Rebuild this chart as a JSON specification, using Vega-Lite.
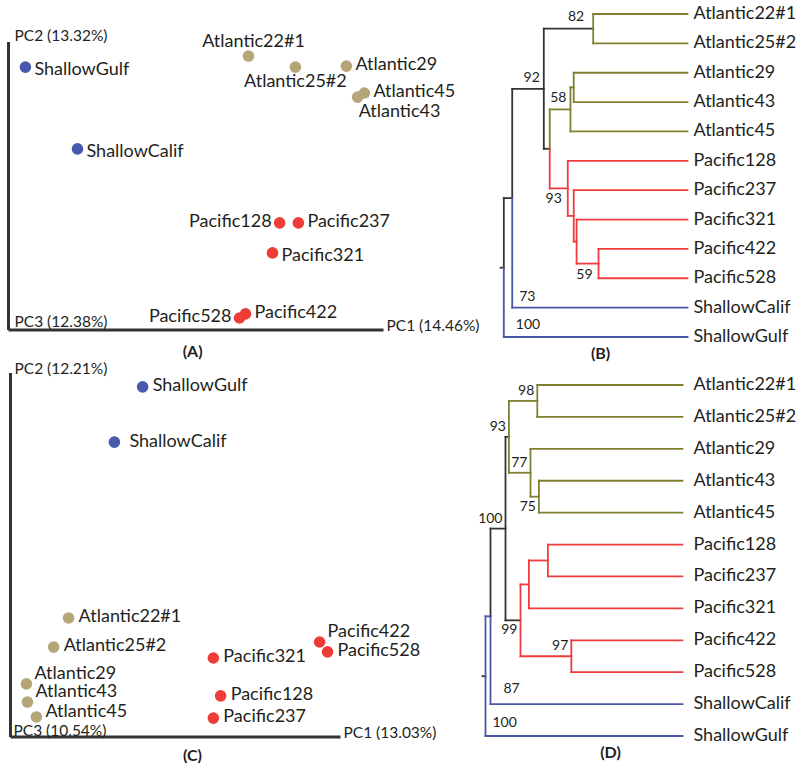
{
  "$schema": "https://vega.github.io/schema/vega-lite/v6.json",
  "padding": {"left": 6.5, "top": 5, "right": 0, "bottom": 0},
  "config": {
    "view": {"stroke": null},
    "text": {"font": "Lato", "fontSize": 18, "color": "#231f20"}
  },
  "datasets": {
    "pcaA": [
      {"name": "ShallowGulf", "group": "Shallow", "x": 4.5, "y": 83.2},
      {"name": "ShallowCalif", "group": "Shallow", "x": 18.4, "y": 57.3},
      {"name": "Atlantic22#1", "group": "Atlantic", "x": 64.0, "y": 86.7},
      {"name": "Atlantic25#2", "group": "Atlantic", "x": 76.5, "y": 83.2},
      {"name": "Atlantic29", "group": "Atlantic", "x": 90.1, "y": 83.5},
      {"name": "Atlantic43", "group": "Atlantic", "x": 93.1, "y": 73.7},
      {"name": "Atlantic45", "group": "Atlantic", "x": 94.9, "y": 75.0},
      {"name": "Pacific128", "group": "Pacific", "x": 72.3, "y": 33.9},
      {"name": "Pacific237", "group": "Pacific", "x": 77.3, "y": 33.9},
      {"name": "Pacific321", "group": "Pacific", "x": 70.4, "y": 24.4},
      {"name": "Pacific422", "group": "Pacific", "x": 63.2, "y": 5.1},
      {"name": "Pacific528", "group": "Pacific", "x": 61.6, "y": 3.8}
    ],
    "pcaC": [
      {"name": "ShallowGulf", "group": "Shallow", "x": 40.4, "y": 96.2},
      {"name": "ShallowCalif", "group": "Shallow", "x": 31.9, "y": 81.0},
      {"name": "Atlantic22#1", "group": "Atlantic", "x": 18.1, "y": 32.7},
      {"name": "Atlantic25#2", "group": "Atlantic", "x": 13.6, "y": 24.7},
      {"name": "Atlantic29", "group": "Atlantic", "x": 5.4, "y": 14.6},
      {"name": "Atlantic43", "group": "Atlantic", "x": 5.7, "y": 9.6},
      {"name": "Atlantic45", "group": "Atlantic", "x": 8.4, "y": 5.5},
      {"name": "Pacific128", "group": "Pacific", "x": 63.9, "y": 11.3},
      {"name": "Pacific237", "group": "Pacific", "x": 61.7, "y": 5.2},
      {"name": "Pacific321", "group": "Pacific", "x": 61.7, "y": 21.7},
      {"name": "Pacific422", "group": "Pacific", "x": 93.7, "y": 26.1},
      {"name": "Pacific528", "group": "Pacific", "x": 96.1, "y": 23.4}
    ],
    "axesA": [
      {"x": 0, "y": 0, "x2": 0, "y2": 91.1},
      {"x": 0, "y": 0, "x2": 100, "y2": 0}
    ],
    "axesC": [
      {"x": 0.6, "y": 0, "x2": 0.6, "y2": 100},
      {"x": 0.6, "y": 0, "x2": 100, "y2": 0}
    ],
    "axisTextA": [
      {"label": "PC2 (13.32%)", "x": 1.6, "y": 93.0},
      {"label": "PC3 (12.38%)", "x": 1.6, "y": 2.5},
      {"label": "PC1 (14.46%)", "x": 100.8, "y": 1.4}
    ],
    "axisTextC": [
      {"label": "PC2 (12.21%)", "x": 1.8, "y": 101.1},
      {"label": "PC3 (10.54%)", "x": 1.5, "y": 1.6},
      {"label": "PC1 (13.03%)", "x": 100.9, "y": 1.0}
    ],
    "leaves": [
      {"name": "Atlantic22#1", "x": 1, "y": 0},
      {"name": "Atlantic25#2", "x": 1, "y": 1},
      {"name": "Atlantic29", "x": 1, "y": 2},
      {"name": "Atlantic43", "x": 1, "y": 3},
      {"name": "Atlantic45", "x": 1, "y": 4},
      {"name": "Pacific128", "x": 1, "y": 5},
      {"name": "Pacific237", "x": 1, "y": 6},
      {"name": "Pacific321", "x": 1, "y": 7},
      {"name": "Pacific422", "x": 1, "y": 8},
      {"name": "Pacific528", "x": 1, "y": 9},
      {"name": "ShallowCalif", "x": 1, "y": 10},
      {"name": "ShallowGulf", "x": 1, "y": 11}
    ],
    "treeB": [
      {"x": 0.088, "x2": 0.104, "y": 8.64, "y2": 8.64, "clade": "internal"},
      {"x": 0.104, "x2": 0.104, "y": 6.27, "y2": 8.64, "clade": "internal"},
      {"x": 0.104, "x2": 0.104, "y": 8.64, "y2": 11, "clade": "Shallow"},
      {"x": 0.104, "x2": 1, "y": 11, "y2": 11, "clade": "Shallow"},
      {"x": 0.104, "x2": 0.145, "y": 6.27, "y2": 6.27, "clade": "internal"},
      {"x": 0.145, "x2": 0.145, "y": 2.55, "y2": 6.27, "clade": "internal"},
      {"x": 0.145, "x2": 0.145, "y": 6.27, "y2": 10, "clade": "Shallow"},
      {"x": 0.145, "x2": 1, "y": 10, "y2": 10, "clade": "Shallow"},
      {"x": 0.145, "x2": 0.299, "y": 2.55, "y2": 2.55, "clade": "internal"},
      {"x": 0.299, "x2": 0.299, "y": 0.5, "y2": 4.59, "clade": "internal"},
      {"x": 0.299, "x2": 0.540, "y": 0.5, "y2": 0.5, "clade": "internal"},
      {"x": 0.540, "x2": 0.540, "y": 0, "y2": 1, "clade": "Atlantic"},
      {"x": 0.540, "x2": 1, "y": 0, "y2": 0, "clade": "Atlantic"},
      {"x": 0.540, "x2": 1, "y": 1, "y2": 1, "clade": "Atlantic"},
      {"x": 0.299, "x2": 0.328, "y": 4.59, "y2": 4.59, "clade": "internal"},
      {"x": 0.328, "x2": 0.328, "y": 3.25, "y2": 4.59, "clade": "Atlantic"},
      {"x": 0.328, "x2": 0.328, "y": 4.59, "y2": 5.94, "clade": "Pacific"},
      {"x": 0.328, "x2": 0.429, "y": 3.25, "y2": 3.25, "clade": "Atlantic"},
      {"x": 0.429, "x2": 0.429, "y": 2.5, "y2": 4, "clade": "Atlantic"},
      {"x": 0.429, "x2": 0.445, "y": 2.5, "y2": 2.5, "clade": "Atlantic"},
      {"x": 0.445, "x2": 0.445, "y": 2, "y2": 3, "clade": "Atlantic"},
      {"x": 0.445, "x2": 1, "y": 2, "y2": 2, "clade": "Atlantic"},
      {"x": 0.445, "x2": 1, "y": 3, "y2": 3, "clade": "Atlantic"},
      {"x": 0.429, "x2": 1, "y": 4, "y2": 4, "clade": "Atlantic"},
      {"x": 0.328, "x2": 0.416, "y": 5.94, "y2": 5.94, "clade": "Pacific"},
      {"x": 0.416, "x2": 0.416, "y": 5, "y2": 6.875, "clade": "Pacific"},
      {"x": 0.416, "x2": 1, "y": 5, "y2": 5, "clade": "Pacific"},
      {"x": 0.416, "x2": 0.445, "y": 6.875, "y2": 6.875, "clade": "Pacific"},
      {"x": 0.445, "x2": 0.445, "y": 6, "y2": 7.75, "clade": "Pacific"},
      {"x": 0.445, "x2": 1, "y": 6, "y2": 6, "clade": "Pacific"},
      {"x": 0.445, "x2": 0.459, "y": 7.75, "y2": 7.75, "clade": "Pacific"},
      {"x": 0.459, "x2": 0.459, "y": 7, "y2": 8.5, "clade": "Pacific"},
      {"x": 0.459, "x2": 1, "y": 7, "y2": 7, "clade": "Pacific"},
      {"x": 0.459, "x2": 0.566, "y": 8.5, "y2": 8.5, "clade": "Pacific"},
      {"x": 0.566, "x2": 0.566, "y": 8, "y2": 9, "clade": "Pacific"},
      {"x": 0.566, "x2": 1, "y": 8, "y2": 8, "clade": "Pacific"},
      {"x": 0.566, "x2": 1, "y": 9, "y2": 9, "clade": "Pacific"}
    ],
    "supportB": [
      {"node": "N82", "support": "82", "x": 0.540, "y": 0.5},
      {"node": "N92", "support": "92", "x": 0.299, "y": 2.55},
      {"node": "N58", "support": "58", "x": 0.429, "y": 3.25},
      {"node": "N93", "support": "93", "x": 0.416, "y": 5.94},
      {"node": "N59", "support": "59", "x": 0.566, "y": 8.5},
      {"node": "N73", "support": "73", "x": 0.145, "y": 10},
      {"node": "root", "support": "100", "x": 0.104, "y": 11}
    ],
    "treeD": [
      {"x": 0, "x2": 0.015, "y": 9.125, "y2": 9.125, "clade": "internal"},
      {"x": 0.015, "x2": 0.015, "y": 7.25, "y2": 11, "clade": "Shallow"},
      {"x": 0.015, "x2": 1, "y": 11, "y2": 11, "clade": "Shallow"},
      {"x": 0.015, "x2": 0.04, "y": 7.25, "y2": 7.25, "clade": "Shallow"},
      {"x": 0.04, "x2": 0.04, "y": 4.5, "y2": 7.25, "clade": "internal"},
      {"x": 0.04, "x2": 0.04, "y": 7.25, "y2": 10, "clade": "Shallow"},
      {"x": 0.04, "x2": 1, "y": 10, "y2": 10, "clade": "Shallow"},
      {"x": 0.04, "x2": 0.115, "y": 4.5, "y2": 4.5, "clade": "internal"},
      {"x": 0.115, "x2": 0.115, "y": 1.625, "y2": 7.375, "clade": "internal"},
      {"x": 0.115, "x2": 0.132, "y": 1.625, "y2": 1.625, "clade": "internal"},
      {"x": 0.132, "x2": 0.132, "y": 0.5, "y2": 2.75, "clade": "Atlantic"},
      {"x": 0.132, "x2": 0.274, "y": 0.5, "y2": 0.5, "clade": "Atlantic"},
      {"x": 0.274, "x2": 0.274, "y": 0, "y2": 1, "clade": "Atlantic"},
      {"x": 0.274, "x2": 1, "y": 0, "y2": 0, "clade": "Atlantic"},
      {"x": 0.274, "x2": 1, "y": 1, "y2": 1, "clade": "Atlantic"},
      {"x": 0.132, "x2": 0.24, "y": 2.75, "y2": 2.75, "clade": "Atlantic"},
      {"x": 0.24, "x2": 0.24, "y": 2, "y2": 3.5, "clade": "Atlantic"},
      {"x": 0.24, "x2": 1, "y": 2, "y2": 2, "clade": "Atlantic"},
      {"x": 0.24, "x2": 0.282, "y": 3.5, "y2": 3.5, "clade": "Atlantic"},
      {"x": 0.282, "x2": 0.282, "y": 3, "y2": 4, "clade": "Atlantic"},
      {"x": 0.282, "x2": 1, "y": 3, "y2": 3, "clade": "Atlantic"},
      {"x": 0.282, "x2": 1, "y": 4, "y2": 4, "clade": "Atlantic"},
      {"x": 0.115, "x2": 0.19, "y": 7.375, "y2": 7.375, "clade": "internal"},
      {"x": 0.19, "x2": 0.19, "y": 6.25, "y2": 8.5, "clade": "Pacific"},
      {"x": 0.19, "x2": 0.232, "y": 6.25, "y2": 6.25, "clade": "Pacific"},
      {"x": 0.232, "x2": 0.232, "y": 5.5, "y2": 7, "clade": "Pacific"},
      {"x": 0.232, "x2": 0.327, "y": 5.5, "y2": 5.5, "clade": "Pacific"},
      {"x": 0.327, "x2": 0.327, "y": 5, "y2": 6, "clade": "Pacific"},
      {"x": 0.327, "x2": 1, "y": 5, "y2": 5, "clade": "Pacific"},
      {"x": 0.327, "x2": 1, "y": 6, "y2": 6, "clade": "Pacific"},
      {"x": 0.232, "x2": 1, "y": 7, "y2": 7, "clade": "Pacific"},
      {"x": 0.19, "x2": 0.444, "y": 8.5, "y2": 8.5, "clade": "Pacific"},
      {"x": 0.444, "x2": 0.444, "y": 8, "y2": 9, "clade": "Pacific"},
      {"x": 0.444, "x2": 1, "y": 8, "y2": 8, "clade": "Pacific"},
      {"x": 0.444, "x2": 1, "y": 9, "y2": 9, "clade": "Pacific"}
    ],
    "supportD": [
      {"node": "N98", "support": "98", "x": 0.274, "y": 0.5},
      {"node": "N93", "support": "93", "x": 0.132, "y": 1.625},
      {"node": "N77", "support": "77", "x": 0.24, "y": 2.75},
      {"node": "N75", "support": "75", "x": 0.282, "y": 3.5},
      {"node": "N100", "support": "100", "x": 0.115, "y": 4.5},
      {"node": "N99", "support": "99", "x": 0.19, "y": 7.375},
      {"node": "N97", "support": "97", "x": 0.444, "y": 8.5},
      {"node": "N87", "support": "87", "x": 0.04, "y": 10},
      {"node": "root", "support": "100", "x": 0.015, "y": 11}
    ],
    "panelB": [{"label": "(B)", "x": 0.576, "y": 11.58}],
    "panelD": [{"label": "(D)", "x": 0.64, "y": 11.53}],
    "panelA": [{"label": "(A)", "x": 49.1, "y": -7.0}],
    "panelC": [{"label": "(C)", "x": 55.4, "y": -5.2}]
  },
  "columns": 2,
  "align": "each",
  "bounds": "flush",
  "spacing": {"row": 36, "column": 99},
  "resolve": {"scale": {"color": "independent"}},
  "concat": [
    {
      "width": 375,
      "height": 316,
      "encoding": {
        "x": {"field": "x", "type": "quantitative", "scale": {"domain": [0, 100], "nice": false, "zero": false}, "axis": null},
        "y": {"field": "y", "type": "quantitative", "scale": {"domain": [0, 100], "nice": false, "zero": false}, "axis": null}
      },
      "layer": [
        {
          "data": {"name": "axesA"},
          "mark": {"type": "rule", "strokeWidth": 3, "color": "#333333"},
          "encoding": {"x2": {"field": "x2"}, "y2": {"field": "y2"}}
        },
        {
          "data": {"name": "pcaA"},
          "mark": {"type": "circle", "size": 135, "opacity": 1},
          "encoding": {
            "color": {"field": "group", "type": "nominal", "scale": {"domain": ["Atlantic", "Pacific", "Shallow"], "range": ["#b4a677", "#ee3d36", "#4659ad"]}, "legend": null}
          }
        },
        {
          "data": {"name": "pcaA"},
          "transform": [{"filter": {"field": "name", "oneOf": ["ShallowGulf", "ShallowCalif", "Pacific321"]}}],
          "mark": {"type": "text", "align": "left", "dx": 9, "dy": 3},
          "encoding": {"text": {"field": "name"}}
        },
        {
          "data": {"name": "pcaA"},
          "transform": [{"filter": {"field": "name", "oneOf": ["Atlantic29", "Atlantic45", "Pacific237", "Pacific422"]}}],
          "mark": {"type": "text", "align": "left", "dx": 9, "dy": -1},
          "encoding": {"text": {"field": "name"}}
        },
        {
          "data": {"name": "pcaA"},
          "transform": [{"filter": {"field": "name", "oneOf": ["Pacific128", "Pacific528"]}}],
          "mark": {"type": "text", "align": "right", "dx": -8, "dy": -1},
          "encoding": {"text": {"field": "name"}}
        },
        {
          "data": {"name": "pcaA"},
          "transform": [{"filter": {"field": "name", "oneOf": ["Atlantic22#1"]}}],
          "mark": {"type": "text", "align": "center", "dx": 5, "dy": -14},
          "encoding": {"text": {"field": "name"}}
        },
        {
          "data": {"name": "pcaA"},
          "transform": [{"filter": {"field": "name", "oneOf": ["Atlantic25#2"]}}],
          "mark": {"type": "text", "align": "center", "dx": 0, "dy": 15},
          "encoding": {"text": {"field": "name"}}
        },
        {
          "data": {"name": "pcaA"},
          "transform": [{"filter": {"field": "name", "oneOf": ["Atlantic43"]}}],
          "mark": {"type": "text", "align": "left", "dx": 1, "dy": 15},
          "encoding": {"text": {"field": "name"}}
        },
        {
          "data": {"name": "axisTextA"},
          "mark": {"type": "text", "align": "left", "fontSize": 15.5},
          "encoding": {"text": {"field": "label"}}
        },
        {
          "data": {"name": "panelA"},
          "mark": {"type": "text", "align": "center", "fontSize": 16, "fontWeight": "bold"},
          "encoding": {"text": {"field": "label"}}
        }
      ]
    },
    {
      "width": 205,
      "height": 323,
      "encoding": {
        "x": {"field": "x", "type": "quantitative", "scale": {"domain": [0, 1], "nice": false, "zero": false}, "axis": null},
        "y": {"field": "y", "type": "quantitative", "scale": {"domain": [0, 11], "nice": false, "zero": false, "reverse": true}, "axis": null}
      },
      "layer": [
        {
          "data": {"name": "treeB"},
          "mark": {"type": "rule", "strokeWidth": 1.8, "strokeCap": "square"},
          "encoding": {
            "x2": {"field": "x2"},
            "y2": {"field": "y2"},
            "color": {"field": "clade", "type": "nominal", "scale": {"domain": ["internal", "Atlantic", "Pacific", "Shallow"], "range": ["#333333", "#7f7f30", "#f03c3c", "#4a56a6"]}, "legend": null}
          }
        },
        {
          "data": {"name": "leaves"},
          "mark": {"type": "text", "align": "left", "dx": 6},
          "encoding": {"text": {"field": "name"}}
        },
        {
          "data": {"name": "supportB"},
          "transform": [{"filter": {"field": "node", "oneOf": ["N82"]}}],
          "mark": {"type": "text", "align": "right", "dx": -9, "dy": -12, "fontSize": 14},
          "encoding": {"text": {"field": "support"}}
        },
        {
          "data": {"name": "supportB"},
          "transform": [{"filter": {"field": "node", "oneOf": ["N92", "N58"]}}],
          "mark": {"type": "text", "align": "right", "dx": -4, "dy": -11, "fontSize": 14},
          "encoding": {"text": {"field": "support"}}
        },
        {
          "data": {"name": "supportB"},
          "transform": [{"filter": {"field": "node", "oneOf": ["N93", "N59"]}}],
          "mark": {"type": "text", "align": "right", "dx": -6, "dy": 11, "fontSize": 14},
          "encoding": {"text": {"field": "support"}}
        },
        {
          "data": {"name": "supportB"},
          "transform": [{"filter": {"field": "node", "oneOf": ["N73"]}}],
          "mark": {"type": "text", "align": "left", "dx": 7, "dy": -11, "fontSize": 14},
          "encoding": {"text": {"field": "support"}}
        },
        {
          "data": {"name": "supportB"},
          "transform": [{"filter": {"field": "node", "oneOf": ["root"]}}],
          "mark": {"type": "text", "align": "left", "dx": 12, "dy": -12, "fontSize": 14},
          "encoding": {"text": {"field": "support"}}
        },
        {
          "data": {"name": "panelB"},
          "mark": {"type": "text", "align": "center", "fontSize": 16, "fontWeight": "bold"},
          "encoding": {"text": {"field": "label"}}
        }
      ]
    },
    {
      "width": 332,
      "height": 364,
      "encoding": {
        "x": {"field": "x", "type": "quantitative", "scale": {"domain": [0, 100], "nice": false, "zero": false}, "axis": null},
        "y": {"field": "y", "type": "quantitative", "scale": {"domain": [0, 100], "nice": false, "zero": false}, "axis": null}
      },
      "layer": [
        {
          "data": {"name": "axesC"},
          "mark": {"type": "rule", "strokeWidth": 3, "color": "#333333"},
          "encoding": {"x2": {"field": "x2"}, "y2": {"field": "y2"}}
        },
        {
          "data": {"name": "pcaC"},
          "mark": {"type": "circle", "size": 135, "opacity": 1},
          "encoding": {
            "color": {"field": "group", "type": "nominal", "scale": {"domain": ["Atlantic", "Pacific", "Shallow"], "range": ["#b4a677", "#ee3d36", "#4659ad"]}, "legend": null}
          }
        },
        {
          "data": {"name": "pcaC"},
          "transform": [{"filter": {"field": "name", "oneOf": ["ShallowGulf", "Atlantic22#1", "Atlantic25#2", "Pacific321", "Pacific128", "Pacific237", "Pacific528"]}}],
          "mark": {"type": "text", "align": "left", "dx": 10, "dy": -1},
          "encoding": {"text": {"field": "name"}}
        },
        {
          "data": {"name": "pcaC"},
          "transform": [{"filter": {"field": "name", "oneOf": ["ShallowCalif"]}}],
          "mark": {"type": "text", "align": "left", "dx": 15, "dy": 0},
          "encoding": {"text": {"field": "name"}}
        },
        {
          "data": {"name": "pcaC"},
          "transform": [{"filter": {"field": "name", "oneOf": ["Atlantic29", "Atlantic43", "Pacific422"]}}],
          "mark": {"type": "text", "align": "left", "dx": 8, "dy": -10},
          "encoding": {"text": {"field": "name"}}
        },
        {
          "data": {"name": "pcaC"},
          "transform": [{"filter": {"field": "name", "oneOf": ["Atlantic45"]}}],
          "mark": {"type": "text", "align": "left", "dx": 9, "dy": -5},
          "encoding": {"text": {"field": "name"}}
        },
        {
          "data": {"name": "axisTextC"},
          "mark": {"type": "text", "align": "left", "fontSize": 15.5},
          "encoding": {"text": {"field": "label"}}
        },
        {
          "data": {"name": "panelC"},
          "mark": {"type": "text", "align": "center", "fontSize": 16, "fontWeight": "bold"},
          "encoding": {"text": {"field": "label"}}
        }
      ]
    },
    {
      "width": 205,
      "height": 364,
      "encoding": {
        "x": {"field": "x", "type": "quantitative", "scale": {"domain": [0, 1.025], "nice": false, "zero": false}, "axis": null},
        "y": {"field": "y", "type": "quantitative", "scale": {"domain": [-0.376, 11.031], "nice": false, "zero": false, "reverse": true}, "axis": null}
      },
      "layer": [
        {
          "data": {"name": "treeD"},
          "mark": {"type": "rule", "strokeWidth": 1.8, "strokeCap": "square"},
          "encoding": {
            "x2": {"field": "x2"},
            "y2": {"field": "y2"},
            "color": {"field": "clade", "type": "nominal", "scale": {"domain": ["internal", "Atlantic", "Pacific", "Shallow"], "range": ["#333333", "#7f7f30", "#f03c3c", "#4a56a6"]}, "legend": null}
          }
        },
        {
          "data": {"name": "leaves"},
          "mark": {"type": "text", "align": "left", "dx": 11},
          "encoding": {"text": {"field": "name"}}
        },
        {
          "data": {"name": "supportD"},
          "transform": [{"filter": {"field": "node", "oneOf": ["N98", "N93", "N77", "N100", "N97"]}}],
          "mark": {"type": "text", "align": "right", "dx": -3, "dy": -10, "fontSize": 14},
          "encoding": {"text": {"field": "support"}}
        },
        {
          "data": {"name": "supportD"},
          "transform": [{"filter": {"field": "node", "oneOf": ["N75", "N99"]}}],
          "mark": {"type": "text", "align": "right", "dx": -3, "dy": 10, "fontSize": 14},
          "encoding": {"text": {"field": "support"}}
        },
        {
          "data": {"name": "supportD"},
          "transform": [{"filter": {"field": "node", "oneOf": ["N87"]}}],
          "mark": {"type": "text", "align": "left", "dx": 13, "dy": -15, "fontSize": 14},
          "encoding": {"text": {"field": "support"}}
        },
        {
          "data": {"name": "supportD"},
          "transform": [{"filter": {"field": "node", "oneOf": ["root"]}}],
          "mark": {"type": "text", "align": "left", "dx": 7, "dy": -13, "fontSize": 14},
          "encoding": {"text": {"field": "support"}}
        },
        {
          "data": {"name": "panelD"},
          "mark": {"type": "text", "align": "center", "fontSize": 16, "fontWeight": "bold"},
          "encoding": {"text": {"field": "label"}}
        }
      ]
    }
  ]
}
